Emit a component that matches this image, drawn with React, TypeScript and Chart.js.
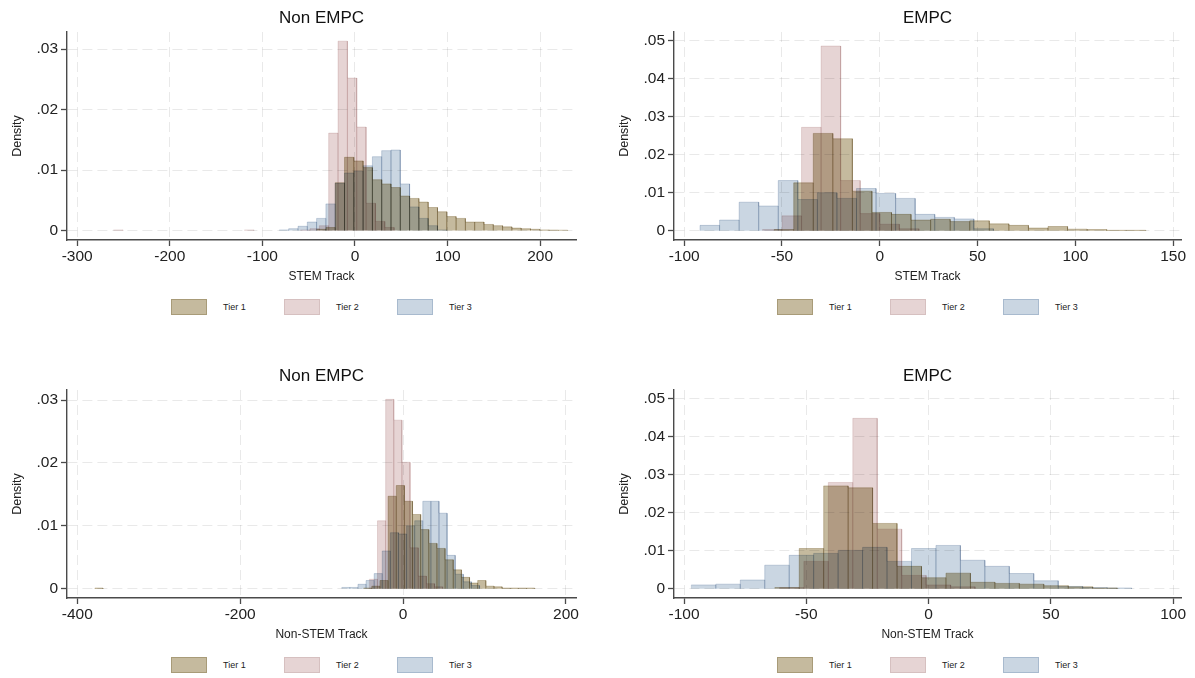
import { useEffect, useRef } from "react";
import { Chart, registerables } from "chart.js";

Chart.register(...registerables);

const FONT = '"Liberation Sans", Arial, Helvetica, sans-serif';

const tierNames = ["Tier 1", "Tier 2", "Tier 3"];

// ---- Non EMPC, STEM Track (bin start, bin width, densities per tier) ----
const stemNonEmpcBinStart = [-41.4, -260.7, -81.6];
const stemNonEmpcBinWidth = [10.04, 10.1, 10.04];
const stemNonEmpcTier1 = [0.0002, 0.0005, 0.0079, 0.0121, 0.0115, 0.0104, 0.0084, 0.0077, 0.0071, 0.0057, 0.0053, 0.0047, 0.0038, 0.0031, 0.0023, 0.002, 0.0014, 0.0014, 0.001, 0.0008, 0.0006, 0.0004, 0.0003, 0.0002, 0.0001, 0.00007, 0.00005];
const stemNonEmpcTier2 = [0.0001, 0, 0, 0, 0, 0, 0, 0, 0, 0, 0, 0, 0, 0, 0.0001, 0, 0, 0, 0, 0, 0.0001, 0.0003, 0.0008, 0.0161, 0.0313, 0.0252, 0.0171, 0.0045, 0.0015, 0.0005];
const stemNonEmpcTier3 = [0.0001, 0.0003, 0.0007, 0.0014, 0.002, 0.0044, 0.0078, 0.0095, 0.0098, 0.0107, 0.0122, 0.0132, 0.0133, 0.0077, 0.0039, 0.002, 0.0008, 0.0001];

// ---- EMPC, STEM Track ----
const stemEmpcBinStart = [-54, -60, -91.9];
const stemEmpcBinWidth = [10, 10, 10];
const stemEmpcTier1 = [0.0003, 0.0126, 0.0256, 0.0242, 0.0104, 0.0048, 0.0043, 0.0028, 0.003, 0.0024, 0.0026, 0.0018, 0.0014, 0.0007, 0.0011, 0.0004, 0.0003, 0.0001, 0.0001];
const stemEmpcTier2 = [0.0003, 0.0039, 0.0272, 0.0486, 0.0132, 0.0045, 0.0017, 0.0005];
const stemEmpcTier3 = [0.0014, 0.0028, 0.0075, 0.0065, 0.0132, 0.0082, 0.01, 0.0085, 0.0111, 0.0098, 0.0085, 0.0043, 0.0035, 0.0031, 0.0005];

// ---- Non EMPC, Non-STEM Track ----
const nonStemNonEmpcBinStart = [-378.4, -41.4, -75.3];
const nonStemNonEmpcBinWidth = [10, 10, 9.95];
const nonStemNonEmpcTier1 = [0.0001, 0, 0, 0, 0, 0, 0, 0, 0, 0, 0, 0, 0, 0, 0, 0, 0, 0, 0, 0, 0, 0, 0, 0, 0, 0, 0, 0, 0, 0, 0, 0, 0, 0.0001, 0.0004, 0.0013, 0.0147, 0.0164, 0.0139, 0.0118, 0.0094, 0.0072, 0.0064, 0.0046, 0.003, 0.0018, 0.0009, 0.0013, 0.0004, 0.0003, 0.0001, 0.0001, 0.0001, 0.0001];
const nonStemNonEmpcTier2 = [0.0015, 0.0108, 0.0301, 0.0268, 0.0201, 0.0065, 0.002, 0.0008, 0.0003];
const nonStemNonEmpcTier3 = [0.0002, 0.0002, 0.0007, 0.0013, 0.0024, 0.006, 0.0089, 0.0087, 0.01, 0.0108, 0.0139, 0.0139, 0.012, 0.0053, 0.0023, 0.0011, 0.0005];

// ---- EMPC, Non-STEM Track ----
const nonStemEmpcBinStart = [-62.9, -61, -97];
const nonStemEmpcBinWidth = [10, 10, 10];
const nonStemEmpcTier1 = [0.0003, 0.0106, 0.0271, 0.0266, 0.0172, 0.0059, 0.0029, 0.0041, 0.0017, 0.0014, 0.0012, 0.0008, 0.0005, 0.0002];
const nonStemEmpcTier2 = [0.0003, 0.0072, 0.028, 0.0449, 0.0157, 0.0035, 0.001, 0.0005];
const nonStemEmpcTier3 = [0.001, 0.0012, 0.0023, 0.0062, 0.0088, 0.0093, 0.0101, 0.0109, 0.0072, 0.0106, 0.0114, 0.0075, 0.0059, 0.004, 0.0021, 0.0006, 0.0003, 0.0002];

// ---- axis ticks ----
const stemNonEmpcXTicks = [-300, -200, -100, 0, 100, 200];
const stemEmpcXTicks = [-100, -50, 0, 50, 100, 150];
const nonStemNonEmpcXTicks = [-400, -200, 0, 200];
const nonStemEmpcXTicks = [-100, -50, 0, 50, 100];
const densityTicksLow = [0, 0.01, 0.02, 0.03];
const densityTicksHigh = [0, 0.01, 0.02, 0.03, 0.04, 0.05];

// fill / outline colours per tier (bars are blended with "multiply",
// so overlapping tiers darken each other)
const tierFill = ["rgb(197,186,158)", "rgb(230,212,212)", "rgb(202,214,226)"];
const tierLine = ["rgb(212,204,184)", "rgb(236,224,224)", "rgb(208,217,228)"];
const swatchLine = ["rgb(168,155,120)", "rgb(214,192,192)", "rgb(168,186,206)"];

type PanelDef = {
  title: string;
  xTitle: string;
  xMin: number;
  xMax: number;
  yMin: number;
  yMax: number;
  xTicks: number[];
  yTicks: number[];
  starts: number[];
  widths: number[];
  tiers: number[][];
  left: number;
  top: number;
  width: number;
};

const panels: PanelDef[] = [
  {
    title: "Non EMPC", xTitle: "STEM Track",
    xMin: -311, xMax: 238.7, yMin: -0.00157, yMax: 0.03281,
    xTicks: stemNonEmpcXTicks, yTicks: densityTicksLow,
    starts: stemNonEmpcBinStart, widths: stemNonEmpcBinWidth,
    tiers: [stemNonEmpcTier1, stemNonEmpcTier2, stemNonEmpcTier3],
    left: 0, top: 0, width: 590,
  },
  {
    title: "EMPC", xTitle: "STEM Track",
    xMin: -105.2, xMax: 154, yMin: -0.00245, yMax: 0.05229,
    xTicks: stemEmpcXTicks, yTicks: densityTicksHigh,
    starts: stemEmpcBinStart, widths: stemEmpcBinWidth,
    tiers: [stemEmpcTier1, stemEmpcTier2, stemEmpcTier3],
    left: 607, top: 0, width: 588,
  },
  {
    title: "Non EMPC", xTitle: "Non-STEM Track",
    xMin: -412.6, xMax: 212.3, yMin: -0.00148, yMax: 0.03159,
    xTicks: nonStemNonEmpcXTicks, yTicks: densityTicksLow,
    starts: nonStemNonEmpcBinStart, widths: nonStemNonEmpcBinWidth,
    tiers: [nonStemNonEmpcTier1, nonStemNonEmpcTier2, nonStemNonEmpcTier3],
    left: 0, top: 358, width: 590,
  },
  {
    title: "EMPC", xTitle: "Non-STEM Track",
    xMin: -104.1, xMax: 103.2, yMin: -0.00245, yMax: 0.05237,
    xTicks: nonStemEmpcXTicks, yTicks: densityTicksHigh,
    starts: nonStemEmpcBinStart, widths: nonStemEmpcBinWidth,
    tiers: [nonStemEmpcTier1, nonStemEmpcTier2, nonStemEmpcTier3],
    left: 607, top: 358, width: 588,
  },
];

// Outline of a histogram as a step path: each non-empty bin becomes its own
// closed column (edge up, across, edge down); empty bins break the path.
function histogramPoints(start: number, width: number, density: number[]) {
  const pts: { x: number; y: number | null }[] = [];
  density.forEach((d, i) => {
    const x0 = start + i * width;
    const x1 = x0 + width;
    if (d > 0) {
      pts.push({ x: x0, y: 0 }, { x: x0, y: d }, { x: x1, y: d }, { x: x1, y: 0 });
    } else {
      pts.push({ x: (x0 + x1) / 2, y: null });
    }
  });
  return pts;
}

// Overlapping histograms are composited multiplicatively.
const multiplyBlend = {
  id: "multiplyBlend",
  beforeDatasetsDraw(chart: any) {
    chart.ctx.save();
    chart.ctx.globalCompositeOperation = "multiply";
  },
  afterDatasetsDraw(chart: any) {
    chart.ctx.restore();
  },
};

const formatDensity = (v: number) =>
  v === 0 ? "0" : "." + String(Math.round(v * 100)).padStart(2, "0");

const CANVAS_H = 285;
const AXIS_LEFT = 67;
const PAD_RIGHT = 14;

function Panel({ def }: { def: PanelDef }) {
  const ref = useRef<HTMLCanvasElement>(null);

  useEffect(() => {
    const datasets = def.tiers.map((dens, t) => ({
      label: tierNames[t],
      data: histogramPoints(def.starts[t], def.widths[t], dens),
      borderColor: tierLine[t],
      backgroundColor: tierFill[t],
      borderWidth: 1,
      fill: "origin",
      pointRadius: 0,
      pointHoverRadius: 0,
      tension: 0,
      spanGaps: false,
      order: 3 - t,
    }));

    const tickColor = "#4a4a4a";
    const gridColor = "rgba(0,0,0,0.085)";
    const chart = new Chart(ref.current as HTMLCanvasElement, {
      type: "line",
      data: { datasets: datasets as any },
      plugins: [multiplyBlend],
      options: {
        animation: false,
        responsive: false,
        maintainAspectRatio: false,
        events: [],
        layout: { padding: { left: 0, right: PAD_RIGHT, top: 0, bottom: 0 } },
        plugins: {
          legend: { display: false },
          tooltip: { enabled: false },
          title: {
            display: true,
            text: def.title,
            fullSize: false,
            color: "#111",
            font: { family: FONT, size: 17, weight: "normal", lineHeight: 1.2 },
            padding: { top: 7.8, bottom: 3.8 },
          },
        },
        scales: {
          x: {
            type: "linear",
            min: def.xMin,
            max: def.xMax,
            afterBuildTicks: (s: any) => {
              s.ticks = def.xTicks.map((v) => ({ value: v }));
            },
            afterFit: (s: any) => {
              s.height = 45;
            },
            ticks: {
              autoSkip: false,
              maxRotation: 0,
              padding: 1,
              color: "#222",
              font: { family: FONT, size: 15.5 },
              callback: (v: any) => String(v),
            },
            grid: {
              color: gridColor,
              lineWidth: 1,
              tickLength: 6,
              tickColor,
              tickWidth: 1.3,
            },
            border: { display: true, color: tickColor, width: 1.4, dash: [10, 5] },
            title: {
              display: true,
              text: def.xTitle,
              color: "#222",
              font: { family: FONT, size: 12, lineHeight: 1.2 },
              padding: { top: 0, bottom: 1 },
            },
          },
          y: {
            type: "linear",
            min: def.yMin,
            max: def.yMax,
            afterBuildTicks: (s: any) => {
              s.ticks = def.yTicks.map((v) => ({ value: v }));
            },
            afterFit: (s: any) => {
              s.width = AXIS_LEFT;
            },
            ticks: {
              autoSkip: false,
              padding: 3,
              color: "#222",
              font: { family: FONT, size: 15.5 },
              callback: (v: any) => formatDensity(Number(v)),
            },
            grid: {
              color: gridColor,
              lineWidth: 1,
              tickLength: 6,
              tickColor,
              tickWidth: 1.3,
            },
            border: { display: true, color: tickColor, width: 1.4, dash: [10, 5] },
            title: {
              display: true,
              text: "Density",
              color: "#222",
              font: { family: FONT, size: 12.5, lineHeight: 1.2 },
              padding: { top: 10.5, bottom: 0 },
            },
          },
        },
      } as any,
    });
    return () => chart.destroy();
  }, [def]);

  const plotWidth = def.width - AXIS_LEFT - PAD_RIGHT;

  return (
    <div style={{ position: "absolute", left: def.left, top: def.top, width: def.width, height: 320 }}>
      <canvas
        ref={ref}
        width={def.width}
        height={CANVAS_H}
        style={{ display: "block", width: def.width, height: CANVAS_H }}
      />
      <div
        style={{
          position: "absolute",
          top: 299,
          left: AXIS_LEFT,
          width: plotWidth,
          display: "flex",
          justifyContent: "center",
          gap: 38,
        }}
      >
        {tierNames.map((name, t) => (
          <div key={name} style={{ display: "flex", alignItems: "center", width: 75 }}>
            <span
              style={{
                display: "inline-block",
                boxSizing: "border-box",
                width: 36,
                height: 16,
                background: tierFill[t],
                border: `1px solid ${swatchLine[t]}`,
              }}
            />
            <span style={{ marginLeft: 16, fontFamily: FONT, fontSize: 9, color: "#222", whiteSpace: "nowrap" }}>
              {name}
            </span>
          </div>
        ))}
      </div>
    </div>
  );
}

export default function App() {
  return (
    <div
      style={{
        position: "fixed",
        left: 0,
        top: 0,
        width: 1195,
        height: 678,
        background: "#fff",
        overflow: "hidden",
      }}
    >
      {panels.map((p, i) => (
        <Panel key={i} def={p} />
      ))}
    </div>
  );
}
